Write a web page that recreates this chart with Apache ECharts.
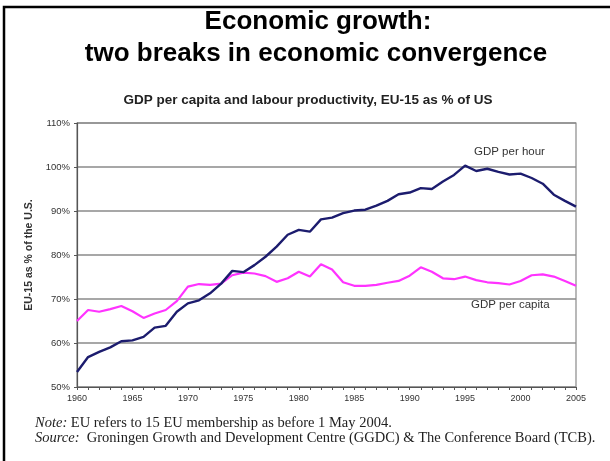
<!DOCTYPE html>
<html>
<head>
<meta charset="utf-8">
<script src="https://cdn.jsdelivr.net/npm/echarts@6/dist/echarts.min.js"></script>
<style>
html,body{margin:0;padding:0;background:#fff;}
#c{width:610px;height:461px;}
</style>
</head>
<body>
<div id="c"></div>
<script>
const years = [1960,1961,1962,1963,1964,1965,1966,1967,1968,1969,1970,1971,1972,1973,1974,1975,1976,1977,1978,1979,1980,1981,1982,1983,1984,1985,1986,1987,1988,1989,1990,1991,1992,1993,1994,1995,1996,1997,1998,1999,2000,2001,2002,2003,2004,2005];
const gdpPerHour = [53.4,56.8,58.0,59.0,60.4,60.6,61.4,63.5,63.9,67.1,69.0,69.7,71.3,73.5,76.4,76.1,77.7,79.6,81.9,84.6,85.7,85.3,88.1,88.5,89.5,90.1,90.3,91.2,92.3,93.8,94.2,95.2,95.0,96.7,98.2,100.3,99.1,99.6,98.9,98.3,98.5,97.5,96.2,93.7,92.3,91.0];
const gdpPerCapita = [65.0,67.5,67.1,67.7,68.4,67.2,65.7,66.7,67.5,69.5,72.8,73.4,73.2,73.5,75.4,76.0,75.8,75.2,73.9,74.7,76.2,75.1,77.9,76.7,73.8,73.0,73.0,73.2,73.7,74.1,75.3,77.2,76.2,74.7,74.5,75.1,74.3,73.8,73.6,73.3,74.1,75.4,75.6,75.1,74.1,73.0];
const yTicks = [50,60,70,80,90,100,110];
const xTicks = [1960,1965,1970,1975,1980,1985,1990,1995,2000,2005];

const pairs = (v) => years.map((y, i) => [y, v[i]]);

const chart = echarts.init(document.getElementById('c'), null, {renderer: 'canvas'});
chart.setOption({
  animation: false,
  backgroundColor: '#fff',
  grid: {left: 77, right: 34, top: 123, bottom: 74, show: true, borderColor: '#8a8a8a', borderWidth: 1.2},
  xAxis: {
    type: 'value', min: xTicks[0], max: xTicks[xTicks.length-1], interval: 5,
    axisLine: {show: true, lineStyle: {color: '#555', width: 1.2}},
    axisTick: {show: true, length: 3, lineStyle: {color: '#555'}},
    minorTick: {show: true, splitNumber: 5, length: 3, lineStyle: {color: '#555'}},
    splitLine: {show: false},
    axisLabel: {fontFamily: 'Liberation Sans, Arial', fontSize: 9, color: '#333', margin: 7,
      formatter: (v) => String(v)}
  },
  yAxis: {
    type: 'value', min: yTicks[0], max: yTicks[yTicks.length-1], interval: 10,
    name: 'EU-15 as % of the U.S.', nameLocation: 'middle', nameGap: 38, nameRotate: 90,
    nameTextStyle: {fontFamily: 'Liberation Sans, Arial', fontSize: 10.5, fontWeight: 'bold', color: '#333'},
    axisLine: {show: true, lineStyle: {color: '#555', width: 1.2}},
    axisTick: {show: true, length: 3, lineStyle: {color: '#555'}},
    splitLine: {show: true, lineStyle: {color: '#8a8a8a', width: 1.6}},
    axisLabel: {fontFamily: 'Liberation Sans, Arial', fontSize: 9.5, color: '#333', margin: 7,
      formatter: '{value}%'}
  },
  series: [
    {name: 'GDP per capita', type: 'line', data: pairs(gdpPerCapita), showSymbol: false,
     lineStyle: {color: '#ff33ff', width: 2.2}},
    {name: 'GDP per hour', type: 'line', data: pairs(gdpPerHour), showSymbol: false,
     lineStyle: {color: '#1c1c6e', width: 2.4}}
  ],
  graphic: [
    {type: 'rect', shape: {x: 4, y: 7, width: 620, height: 470}, style: {fill: 'none', stroke: '#000', lineWidth: 2.5}, silent: true},
    {type: 'text', x: 318, y: 22, style: {text: 'Economic growth:', textAlign: 'center', textVerticalAlign: 'middle',
      font: 'bold 26px "Liberation Sans", Arial', fill: '#000'}},
    {type: 'text', x: 316, y: 54, style: {text: 'two breaks in economic convergence', textAlign: 'center', textVerticalAlign: 'middle',
      font: 'bold 26px "Liberation Sans", Arial', fill: '#000'}},
    {type: 'text', x: 308, y: 100, style: {text: 'GDP per capita and labour productivity, EU-15 as % of US', textAlign: 'center', textVerticalAlign: 'middle',
      font: 'bold 13.5px "Liberation Sans", Arial', fill: '#222'}},
    {type: 'text', x: 474, y: 152, style: {text: 'GDP per hour', textVerticalAlign: 'middle', font: '11.5px "Liberation Sans", Arial', fill: '#333'}},
    {type: 'text', x: 471, y: 305, style: {text: 'GDP per capita', textVerticalAlign: 'middle', font: '11.5px "Liberation Sans", Arial', fill: '#333'}},
    {type: 'text', x: 35, y: 423, style: {
      text: '{i|Note:} EU refers to 15 EU membership as before 1 May 2004.', textVerticalAlign: 'middle',
      font: '14.5px "Liberation Serif", "Times New Roman"', fill: '#222',
      rich: {i: {fontStyle: 'italic', fontFamily: 'Liberation Serif', fontSize: 14.5, fill: '#222'}}}},
    {type: 'text', x: 35, y: 438, style: {
      text: '{i|Source:}  Groningen Growth and Development Centre (GGDC) & The Conference Board (TCB).', textVerticalAlign: 'middle',
      font: '14.5px "Liberation Serif", "Times New Roman"', fill: '#222',
      rich: {i: {fontStyle: 'italic', fontFamily: 'Liberation Serif', fontSize: 14.5, fill: '#222'}}}}
  ]
});
</script>
</body>
</html>
